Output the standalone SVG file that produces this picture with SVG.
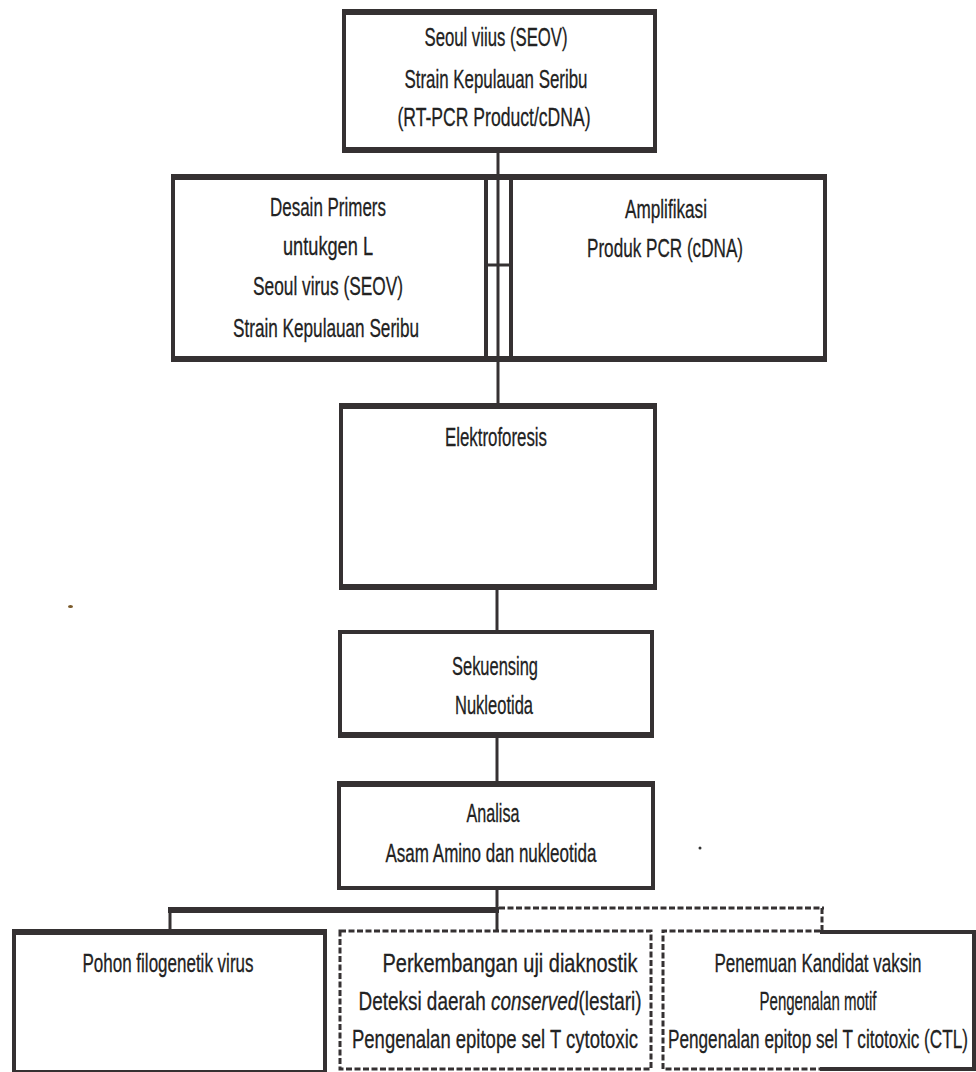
<svg xmlns="http://www.w3.org/2000/svg" width="976" height="1072" viewBox="0 0 976 1072">
<style>
.box{fill:none;stroke:#353132;stroke-width:4}
.edge{stroke:#353132;stroke-width:6;fill:none}
.dash{fill:none;stroke:#353132;stroke-width:3;stroke-dasharray:6 2.5}
.ln{stroke:#353132;stroke-width:3;fill:none}
.t{font-family:"Liberation Sans Narrow","Liberation Sans",Arial,sans-serif;font-size:26px;fill:#222;stroke:#222;stroke-width:0.3;text-anchor:middle}
</style>
<rect width="976" height="1072" fill="#ffffff"/>
<g id="connectors">
<line class="ln" x1="498" y1="150" x2="498" y2="406"/>
<line class="ln" x1="486" y1="177" x2="486" y2="358"/>
<line class="ln" x1="511" y1="177" x2="511" y2="358"/>
<line class="ln" x1="486" y1="265" x2="511" y2="265"/>
<line class="ln" x1="497" y1="587" x2="497" y2="632"/>
<line class="ln" x1="497" y1="735" x2="497" y2="784"/>
<line class="ln" x1="497" y1="888" x2="497" y2="931"/>
<line class="edge" x1="168" y1="910" x2="499" y2="910" stroke-width="5"/>
<line class="ln" x1="170" y1="910" x2="170" y2="932" stroke-width="4"/>
<line class="dash" x1="499" y1="908" x2="824" y2="908" stroke-width="4"/>
<line class="dash" x1="822" y1="908" x2="822" y2="930"/>
</g>
<g id="node-seoul">
<rect class="box" x="344" y="12" width="311" height="138"/>
<line class="edge" x1="342" y1="12" x2="657" y2="12"/>
<line class="edge" x1="342" y1="150" x2="657" y2="150"/>
<text class="t" x="496" y="46" textLength="143" lengthAdjust="spacingAndGlyphs">Seoul viius (SEOV)</text>
<text class="t" x="496" y="88" textLength="183" lengthAdjust="spacingAndGlyphs">Strain Kepulauan Seribu</text>
<text class="t" x="494" y="126" textLength="193" lengthAdjust="spacingAndGlyphs">(RT-PCR Product/cDNA)</text>
</g>
<g id="node-desain">
<rect class="box" x="173" y="177" width="313" height="182"/>
<line class="edge" x1="171" y1="177" x2="498" y2="177"/>
<line class="edge" x1="171" y1="359" x2="498" y2="359"/>
<text class="t" x="328" y="216" textLength="116" lengthAdjust="spacingAndGlyphs">Desain Primers</text>
<text class="t" x="328" y="255" textLength="90" lengthAdjust="spacingAndGlyphs">untukgen L</text>
<text class="t" x="328" y="295" textLength="150" lengthAdjust="spacingAndGlyphs">Seoul virus (SEOV)</text>
<text class="t" x="326" y="337" textLength="186" lengthAdjust="spacingAndGlyphs">Strain Kepulauan Seribu</text>
</g>
<g id="node-amplifikasi">
<rect class="box" x="511" y="177" width="314" height="182"/>
<line class="edge" x1="498" y1="177" x2="827" y2="177"/>
<line class="edge" x1="498" y1="359" x2="827" y2="359"/>
<text class="t" x="666" y="218" textLength="82" lengthAdjust="spacingAndGlyphs">Amplifikasi</text>
<text class="t" x="665" y="257" textLength="156" lengthAdjust="spacingAndGlyphs">Produk PCR (cDNA)</text>
</g>
<g id="node-elektroforesis">
<rect class="box" x="341" y="406" width="314" height="181"/>
<line class="edge" x1="339" y1="406" x2="657" y2="406"/>
<line class="edge" x1="339" y1="587" x2="657" y2="587"/>
<text class="t" x="496" y="446" font-size="28" textLength="102" lengthAdjust="spacingAndGlyphs">Elektroforesis</text>
</g>
<g id="node-sekuensing">
<rect class="box" x="340" y="632" width="312" height="103"/>
<line class="edge" x1="338" y1="735" x2="654" y2="735"/>
<text class="t" x="495" y="675" textLength="86" lengthAdjust="spacingAndGlyphs">Sekuensing</text>
<text class="t" x="494" y="714" textLength="78" lengthAdjust="spacingAndGlyphs">Nukleotida</text>
</g>
<g id="node-analisa">
<rect class="box" x="339" y="784" width="314" height="104"/>
<line class="edge" x1="337" y1="784" x2="655" y2="784"/>
<text class="t" x="493" y="822" textLength="53" lengthAdjust="spacingAndGlyphs">Analisa</text>
<text class="t" x="491" y="862" textLength="211" lengthAdjust="spacingAndGlyphs">Asam Amino dan nukleotida</text>
</g>
<g id="node-pohon">
<rect class="box" x="14" y="932" width="311" height="140"/>
<line class="edge" x1="12" y1="932" x2="327" y2="932"/>
<text class="t" x="168" y="972" textLength="171" lengthAdjust="spacingAndGlyphs">Pohon filogenetik virus</text>
</g>
<g id="node-perkembangan">
<rect class="dash" x="340" y="931" width="311" height="138"/>
<text class="t" x="510" y="972" textLength="255" lengthAdjust="spacingAndGlyphs">Perkembangan uji diaknostik</text>
<text class="t" x="500" y="1010" textLength="283" lengthAdjust="spacingAndGlyphs">Deteksi daerah <tspan font-style="italic">conserved</tspan>(lestari)</text>
<text class="t" x="495" y="1048" textLength="286" lengthAdjust="spacingAndGlyphs">Pengenalan epitope sel T cytotoxic</text>
</g>
<g id="node-penemuan">
<path class="dash" d="M820 931 H663 V1069 H820"/>
<path class="box" d="M820 932 H974 V1069 H820"/>
<text class="t" x="818" y="972" textLength="207" lengthAdjust="spacingAndGlyphs">Penemuan Kandidat vaksin</text>
<text class="t" x="818" y="1010" textLength="117" lengthAdjust="spacingAndGlyphs">Pengenalan motif</text>
<text class="t" x="818" y="1048" textLength="300" lengthAdjust="spacingAndGlyphs">Pengenalan epitop sel T citotoxic (CTL)</text>
</g>
<ellipse cx="70.5" cy="606.5" rx="2.5" ry="1.5" fill="#7a5a2a"/>
<circle cx="700" cy="848" r="1.5" fill="#333"/>
</svg>
